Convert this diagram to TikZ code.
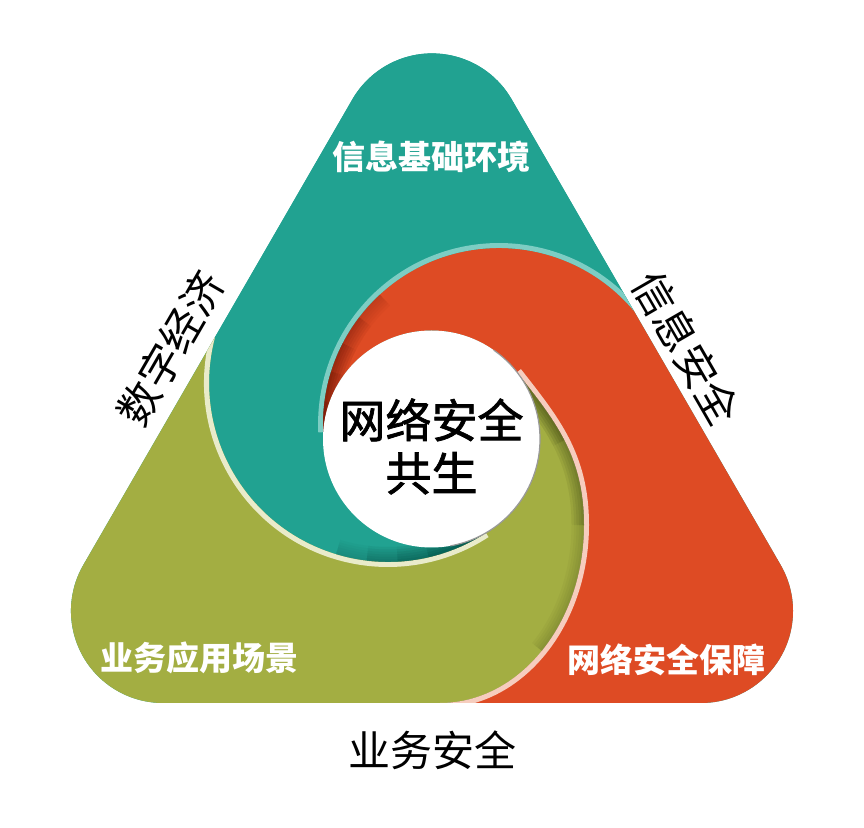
\documentclass[tikz,border=0pt]{standalone}
\usepackage{fontspec}
\newfontfamily\cjk{Noto Sans CJK SC}
\newfontfamily\cjkmid[FakeBold=1.6]{Noto Sans CJK SC}
\definecolor{tealc}{RGB}{33,162,145}
\definecolor{redc}{RGB}{222,75,36}
\definecolor{olivec}{RGB}{163,174,66}
\definecolor{darkteal}{RGB}{8,80,70}
\definecolor{darkred}{RGB}{110,25,10}
\definecolor{darkolive}{RGB}{50,58,15}
\definecolor{creamc}{RGB}{233,235,202}
\definecolor{lightteal}{RGB}{125,205,195}
\definecolor{pinkc}{RGB}{246,205,190}
\tikzset{
  piecelab/.style={font=\cjk\bfseries\fontsize{33pt}{36pt}\selectfont, text=white, inner sep=0pt},
  outlab/.style={font=\cjk\fontsize{42pt}{46pt}\selectfont, text=black, inner sep=0pt},
  centerlab/.style={font=\cjkmid\fontsize{46pt}{53pt}\selectfont, text=black, inner sep=0pt, align=center},
  rim/.style={line width=10pt, line cap=butt},
  shadowlayer/.style={line cap=butt, opacity=0.045},
}
\begin{document}
\begin{tikzpicture}[x=1pt,y=1pt]
\useasboundingbox (0,0) rectangle (864,827);
\fill[white] (0,0) rectangle (864,827);
\begin{scope}[yshift=827pt,yscale=-1]
  % outline of the rounded triangle and the three pieces
  \def\TriPath{(163,703) -- (701,703) arc[start angle=90,end angle=-30,radius=92pt] -- (511.7,99.4) arc[start angle=-30,end angle=-150,radius=92pt] -- (83.3,565) arc[start angle=210,end angle=90,radius=92pt] -- cycle}
  \def\TealPath{(214.9,337.4) arc[start angle=194.76,end angle=56.85,radius=179pt] arc[start angle=59.92,end angle=183.6,radius=108.5pt] arc[start angle=177.33,end angle=319.96,radius=176pt] -- (511.7,99.4) arc[start angle=-30,end angle=-150,radius=92pt] -- cycle}
  \def\RedPath{(633.8,310.8) arc[start angle=319.96,end angle=177.33,radius=176pt] arc[start angle=183.6,end angle=322,radius=108.5pt] .. controls (553.9,419.5) and (584,455) .. (584,525) .. controls (584,623.3) and (519.5,703) .. (440,703) -- (701,703) arc[start angle=90,end angle=-30,radius=92pt] -- cycle}
  \def\OlivePath{(214.9,337.4) -- (83.3,565) arc[start angle=210,end angle=90,radius=92pt] -- (440,703) .. controls (519.5,703) and (584,623.3) .. (584,525) .. controls (584,455) and (553.9,419.5) .. (517,372.2) arc[start angle=322,end angle=419.92,radius=108.5pt] arc[start angle=56.85,end angle=194.76,radius=179pt] -- cycle}
  \fill[tealc] \TriPath;
  \fill[tealc] \TealPath;
  \fill[redc] \RedPath;
  \fill[olivec] \OlivePath;
  % light rims
  \begin{scope}
    \clip \OlivePath;
    \draw[creamc, rim] (214.9,337.4) arc[start angle=194.76,end angle=56.85,radius=179pt];
  \end{scope}
  \begin{scope}
    \clip \TealPath;
    \draw[lightteal, rim] (633.8,310.8) arc[start angle=319.96,end angle=177.33,radius=176pt];
  \end{scope}
  \begin{scope}
    \clip \RedPath;
    \draw[pinkc, rim] (517,372.2) .. controls (553.9,419.5) and (584,455) .. (584,525) .. controls (584,623.3) and (519.5,703) .. (440,703);
  \end{scope}
  % soft shadows inside the tails, darkest at the tips
  \begin{scope}
    \clip \TealPath;
    \foreach \L in {10,20,30,40,50}{
      \foreach \w in {5,10,15,20,25,30}{
        \pgfmathsetmacro\ea{56.85+\L}
        \draw[darkteal, shadowlayer, line width=\w pt] (388,383) ++(56.85:179pt) arc[start angle=56.85,end angle=\ea,radius=179pt];
      }
    }
  \end{scope}
  \begin{scope}
    \clip \RedPath;
    \foreach \L in {10,20,30,40,50}{
      \foreach \w in {5,10,15,20,25,30}{
        \pgfmathsetmacro\ea{177.33+\L}
        \draw[darkred, shadowlayer, line width=\w pt] (499,424) ++(177.33:176pt) arc[start angle=177.33,end angle=\ea,radius=176pt];
      }
    }
  \end{scope}
  \begin{scope}
    \clip \OlivePath;
    \foreach \w in {5,10,15,20,25}{
      \draw[darkolive, shadowlayer, line width=\w pt] (517,372.2) .. controls (535.45,395.85) and (552.2,416.55) .. (564.34,440.09);
      \draw[darkolive, shadowlayer, line width=\w pt] (517,372.2) .. controls (553.9,419.5) and (584,455) .. (584,525);
      \draw[darkolive, shadowlayer, line width=\w pt] (517,372.2) .. controls (553.9,419.5) and (584,455) .. (584,525) .. controls (584,574.15) and (567.875,618.65) .. (541.81,650.86);
    }
  \end{scope}
  % central circle
  \fill[white] (431.5,439) circle[radius=108.5pt];
  \draw[black!40, line width=1.2pt] (431.5,439) ++(-55:108.5pt) arc[start angle=-55,end angle=80,radius=108.5pt];
\end{scope}
% labels (y = 827 - pixel row)
\node[piecelab] (ltop) at (431.7,670.3) {信息基础环境};
\node[piecelab] (lbl) at (199,169) {业务应用场景};
\node[piecelab] (lbr) at (666,167) {网络安全保障};
\node[outlab] (lbottom) at (432.5,77) {业务安全};
\node[outlab, rotate=60] (lleft) at (170.8,478.7) {数字经济};
\node[outlab, rotate=-60] (lright) at (686.7,478.7) {信息安全};
\node[centerlab] (lcenter) at (431.5,380.5) {网络安全\\共生};
\end{tikzpicture}
\end{document}
